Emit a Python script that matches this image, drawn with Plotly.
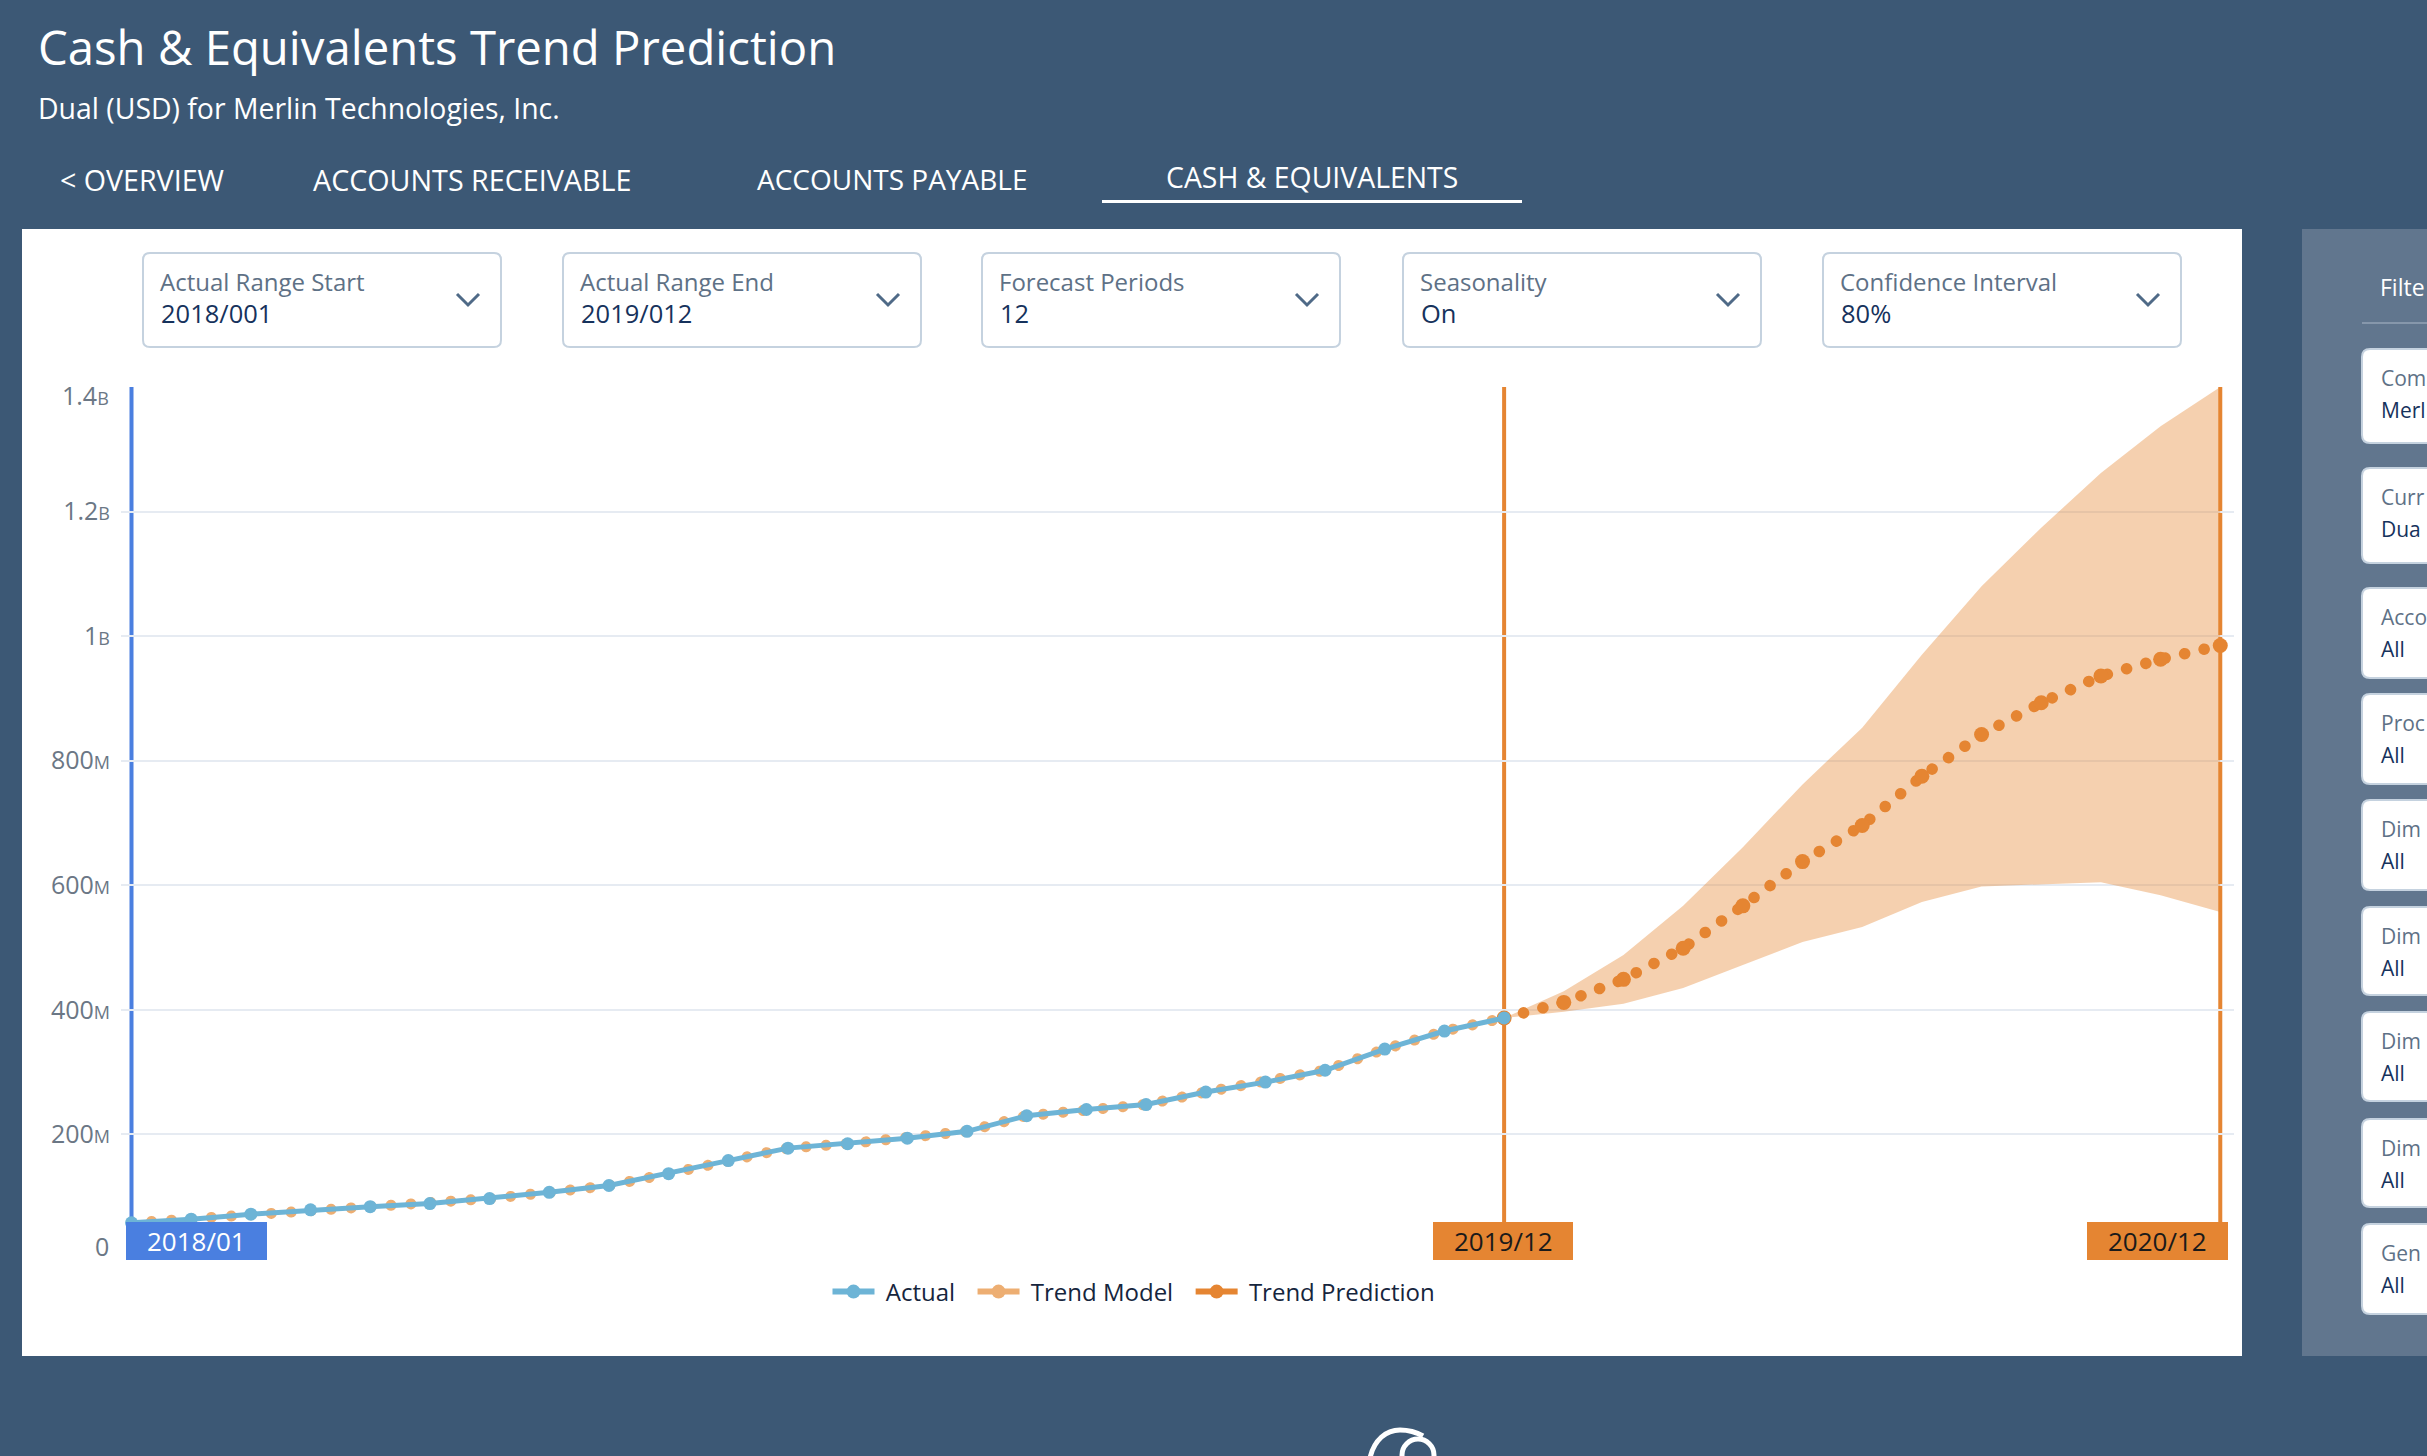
import plotly.graph_objects as go

W = 2427
H = 1456

# months since 2018/01
actual_x = list(range(24))
actual_vals = [58, 64, 72, 79, 84, 89, 97, 107, 118, 137, 158, 178,
               185, 194, 205, 230, 240, 248, 268, 284, 303, 337, 366, 387]
model_vals = [58, 64, 72, 79, 84, 89, 97, 107, 118, 137, 158, 178,
              185, 194, 205, 230, 240, 248, 268, 284, 303, 337, 366, 387]
pred_x = list(range(23, 36))
pred_vals = [387, 412, 449, 499, 567, 638, 696, 775, 842, 893, 936, 963, 985]
upper_vals = [387, 430, 488, 567, 661, 762, 853, 970, 1080, 1174, 1262, 1337, 1400]
lower_vals = [387, 397, 410, 435, 472, 509, 533, 573, 598, 602, 605, 584, 557]

tick_vals = [200, 400, 600, 800, 1000, 1200]
tick_nums = ["200", "400", "600", "800", "1", "1.2"]
tick_units = ["M", "M", "M", "M", "B", "B"]

dropdown_labels = ["Actual Range Start", "Actual Range End", "Forecast Periods", "Seasonality", "Confidence Interval"]
dropdown_values = ["2018/001", "2019/012", "12", "On", "80%"]
dropdown_lefts = [143, 563, 982, 1403, 1823]

# the filter panel runs off the right edge of the page, only the start of each text shows
filter_labels = ["Com", "Curr", "Acco", "Proc", "Dim", "Dim", "Dim", "Dim", "Gen"]
filter_values = ["Merl", "Dua", "All", "All", "All", "All", "All", "All", "All"]
filter_tops = [349, 468, 588, 694, 800, 907, 1012, 1119, 1224]
filter_bottoms = [443, 563, 678, 784, 890, 995, 1101, 1207, 1314]

BG = "#3C5875"
PANEL = "#61768E"
BLUE = "#4A7FE0"
ORANGE = "#E58532"
ACTUAL = "#6DB4D6"
MODEL = "#EDAE72"
FONT = "Open Sans"


def px(x):
    return x / W


def py(y):
    return 1 - y / H


def rect(x0, y0, x1, y1, fill, line=None, width=0, layer="below"):
    return dict(type="rect", xref="paper", yref="paper", x0=px(x0), x1=px(x1), y0=py(y0), y1=py(y1),
                fillcolor=fill, line=dict(color=line, width=width), layer=layer)


def rounded(x0, y0, x1, y1, r, fill, line, width):
    path = (f"M {px(x0 + r)} {py(y0)} L {px(x1 - r)} {py(y0)} Q {px(x1)} {py(y0)} {px(x1)} {py(y0 + r)} "
            f"L {px(x1)} {py(y1 - r)} Q {px(x1)} {py(y1)} {px(x1 - r)} {py(y1)} "
            f"L {px(x0 + r)} {py(y1)} Q {px(x0)} {py(y1)} {px(x0)} {py(y1 - r)} "
            f"L {px(x0)} {py(y0 + r)} Q {px(x0)} {py(y0)} {px(x0 + r)} {py(y0)} Z")
    return dict(type="path", xref="paper", yref="paper", path=path, fillcolor=fill,
                line=dict(color=line, width=width), layer="below")


def label(x, y, text, size, color, anchor="left"):
    return dict(xref="paper", yref="paper", x=px(x), y=py(y), text=text, showarrow=False,
                xanchor=anchor, yanchor="middle", font=dict(family=FONT, size=size, color=color))


logo_arc = (f"M {px(1370)} {py(1458)} C {px(1374)} {py(1440)} {px(1386)} {py(1430)} {px(1400)} {py(1430)} "
            f"C {px(1408)} {py(1430)} {px(1416)} {py(1432)} {px(1423)} {py(1436)}")

shapes = [
    rect(22, 229, 2242, 1356, "white"),
    rect(2302, 229, 2427, 1356, PANEL),
    rect(1102, 200, 1522, 203, "white"),
    dict(type="line", xref="paper", yref="paper", x0=px(2362), x1=px(2427), y0=py(323), y1=py(323),
         line=dict(color="#93A3B5", width=1.5), layer="below"),
    # logo at the foot of the page
    dict(type="path", xref="paper", yref="paper", path=logo_arc, line=dict(color="white", width=5), layer="below"),
    dict(type="circle", xref="paper", yref="paper", x0=px(1402), x1=px(1434), y0=py(1439), y1=py(1471),
         line=dict(color="white", width=5), layer="below"),
    # markers for the start and ends of the ranges
    dict(type="line", xref="x", yref="y", x0=0, x1=0, y0=0, y1=1400, line=dict(color=BLUE, width=4), layer="below"),
    dict(type="line", xref="x", yref="y", x0=23, x1=23, y0=0, y1=1400, line=dict(color=ORANGE, width=4), layer="below"),
    dict(type="line", xref="x", yref="y", x0=35, x1=35, y0=0, y1=1400, line=dict(color=ORANGE, width=4), layer="below"),
    rect(126, 1222, 267, 1260, BLUE, layer="above"),
    rect(1433, 1222, 1573, 1260, ORANGE, layer="above"),
    rect(2087, 1229 - 7, 2228, 1260, ORANGE, layer="above"),
]

annotations = [
    label(36, 47, "Cash &amp; Equivalents Trend Prediction", 47.3, "white"),
    label(36, 108, "Dual (USD) for Merlin Technologies, Inc.", 28.4, "white"),
    label(58, 179, "&lt; OVERVIEW", 28.6, "white"),
    label(311, 179, "ACCOUNTS RECEIVABLE", 28.7, "white"),
    label(755, 179, "ACCOUNTS PAYABLE", 28, "white"),
    label(1164, 177, "CASH &amp; EQUIVALENTS", 28.4, "white"),
    label(196, 1241, "2018/01", 26, "white", "center"),
    label(1503, 1241, "2019/12", 26, "#1A1A1A", "center"),
    label(2157, 1241, "2020/12", 26, "#1A1A1A", "center"),
    label(111, 395, "1.4<span style='font-size:18px'>B</span>", 25, "#6B7785", "right"),
    label(111, 1246, "0", 25, "#6B7785", "right"),
    label(2378, 287, "Filte", 23, "white"),
]

for left, lab, val in zip(dropdown_lefts, dropdown_labels, dropdown_values):
    shapes.append(rounded(left, 253, left + 358, 347, 7, "white", "#C5D2DF", 2))
    annotations.append(label(left + 15, 282, lab, 24, "#5E7186"))
    annotations.append(label(left + 16, 313, val, 25.5, "#16325C"))
    cx = left + 325
    chevron = f"M {px(cx - 11)} {py(294)} L {px(cx)} {py(305)} L {px(cx + 11)} {py(294)}"
    shapes.append(dict(type="path", xref="paper", yref="paper", path=chevron,
                       line=dict(color="#4F6A87", width=3), layer="below"))

for top, bottom, lab, val in zip(filter_tops, filter_bottoms, filter_labels, filter_values):
    shapes.append(rounded(2362, top, 2460, bottom, 8, "white", "#C5D2DF", 2))
    annotations.append(label(2379, top + 29, lab, 21, "#5E7186"))
    annotations.append(label(2379, top + 61, val, 21, "#16325C"))

fig = go.Figure()

fig.add_trace(go.Scatter(x=pred_x, y=upper_vals, mode="lines", line=dict(width=0), showlegend=False, hoverinfo="skip"))
fig.add_trace(go.Scatter(x=pred_x, y=lower_vals, mode="lines", line=dict(width=0), fill="tonexty",
                         fillcolor="rgba(229,133,50,0.39)", showlegend=False, hoverinfo="skip"))

fig.add_trace(go.Scatter(x=actual_x, y=model_vals, mode="lines", line=dict(color=MODEL, width=11, dash="0.1px,19.9px"),
                         showlegend=False))
fig.add_trace(go.Scatter(x=pred_x, y=pred_vals, mode="lines+markers", line=dict(color=ORANGE, width=11.5, dash="0.1px,19.9px"),
                         marker=dict(color=ORANGE, size=15), showlegend=False))
fig.add_trace(go.Scatter(x=actual_x, y=actual_vals, mode="lines+markers", line=dict(color=ACTUAL, width=5),
                         marker=dict(color=ACTUAL, size=13), showlegend=False))

# legend entries with solid keys, like the chart
fig.add_trace(go.Scatter(x=[None], y=[None], mode="lines+markers", name="\u00a0Actual\u00a0\u00a0",
                         line=dict(color=ACTUAL, width=6), marker=dict(color=ACTUAL, size=14)))
fig.add_trace(go.Scatter(x=[None], y=[None], mode="lines+markers", name="\u00a0Trend Model\u00a0\u00a0",
                         line=dict(color=MODEL, width=6), marker=dict(color=MODEL, size=14)))
fig.add_trace(go.Scatter(x=[None], y=[None], mode="lines+markers", name="\u00a0Trend Prediction",
                         line=dict(color=ORANGE, width=6), marker=dict(color=ORANGE, size=14)))

tick_text = [f"{n}<span style='font-size:18px'>{u}</span>" for n, u in zip(tick_nums, tick_units)]

fig.update_layout(
    width=W,
    height=H,
    margin=dict(l=0, r=0, t=0, b=0),
    paper_bgcolor=BG,
    plot_bgcolor="rgba(0,0,0,0)",
    shapes=shapes,
    annotations=annotations,
    hovermode=False,
    legend=dict(orientation="h", x=1134 / W, xanchor="center", y=py(1292), yanchor="middle", traceorder="normal",
                font=dict(family=FONT, size=24, color="#16253D"), bgcolor="rgba(0,0,0,0)", itemwidth=42),
    xaxis=dict(domain=[121 / W, 2234 / W], range=[-0.176, 35.23], showgrid=False, zeroline=False,
               showticklabels=False, ticks=""),
    yaxis=dict(domain=[(H - 1259) / H, (H - 387) / H], range=[0, 1400], tickvals=[0] + tick_vals + [1400],
               ticktext=[""] + tick_text + [""], gridcolor="#E6EBF2", gridwidth=2, zeroline=False, ticks="",
               tickfont=dict(family=FONT, size=25, color="#6B7785"), ticklabelstandoff=10),
)

# no page margin, and round dots on the dotted series
page_fix = """
document.body.style.margin = '0';
document.documentElement.style.overflow = 'hidden';
var css = document.createElement('style');
css.textContent = '.scatterlayer .js-line {stroke-linecap: round;}';
document.head.appendChild(css);
"""

fig.write_html("out.html", post_script=page_fix, config={"displayModeBar": False})
